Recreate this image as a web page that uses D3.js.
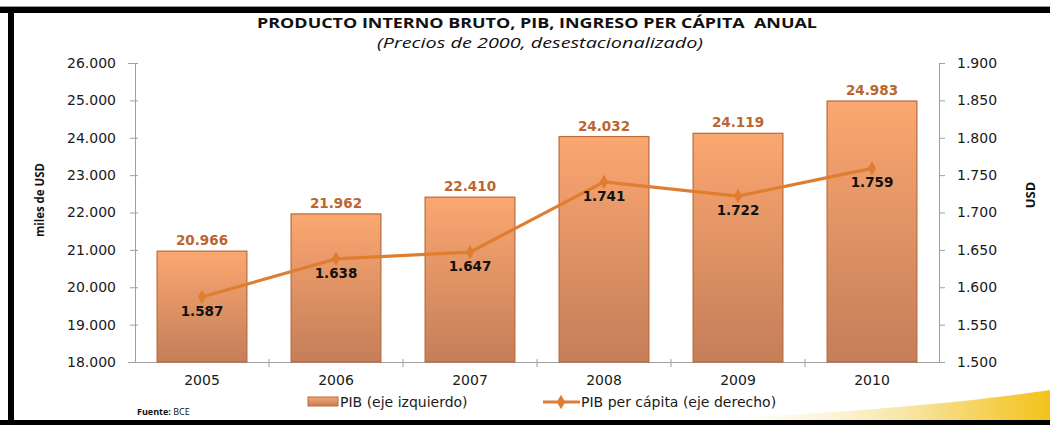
<!DOCTYPE html>
<html>
<head>
<meta charset="utf-8">
<script src="https://cdn.jsdelivr.net/npm/d3@7"></script>
<style>
  body { margin: 0; background: #fff; }
  svg { display: block; }
</style>
</head>
<body>
<div id="chart"></div>
<script>
var years = ['2005', '2006', '2007', '2008', '2009', '2010'];
var pib = [20966, 21962, 22410, 24032, 24119, 24983];
var pibPerCapita = [1587, 1638, 1647, 1741, 1722, 1759];
var leftTicks = [18000, 19000, 20000, 21000, 22000, 23000, 24000, 25000, 26000];
var rightTicks = [1500, 1550, 1600, 1650, 1700, 1750, 1800, 1850, 1900];

var width = 1050, height = 425;
var plot = {left: 135, right: 939, top: 63, bottom: 362};
var numFmt = function (v) { return d3.format(',')(v).replace(/,/g, '.'); };

var svg = d3.select('#chart').append('svg').attr('width', width).attr('height', height);
var defs = svg.append('defs');

var barGrad = defs.append('linearGradient').attr('id', 'barGrad')
    .attr('x1', 0).attr('y1', 0).attr('x2', 0).attr('y2', 1);
barGrad.append('stop').attr('offset', '0%').attr('stop-color', '#fba770');
barGrad.append('stop').attr('offset', '100%').attr('stop-color', '#c47e59');

var swoosh = defs.append('linearGradient').attr('id', 'swoosh')
    .attr('x1', 0).attr('y1', 0).attr('x2', 1).attr('y2', 0);
swoosh.append('stop').attr('offset', '0%').attr('stop-color', '#fff').attr('stop-opacity', 0);
swoosh.append('stop').attr('offset', '60%').attr('stop-color', '#f8e6a6');
swoosh.append('stop').attr('offset', '100%').attr('stop-color', '#f3c21a');

// decorative frame
svg.append('path')
    .attr('d', 'M680,420 C840,414 970,402 1050,390 L1050,420 Z')
    .attr('fill', 'url(#swoosh)');
svg.append('rect').attr('x', 0).attr('y', 6).attr('width', width).attr('height', 1).attr('fill', '#999');
svg.append('rect').attr('x', 0).attr('y', 7).attr('width', width).attr('height', 6).attr('fill', '#000');
svg.append('rect').attr('x', 8).attr('y', 7).attr('width', 6).attr('height', height).attr('fill', '#000');
svg.append('rect').attr('x', 0).attr('y', 420).attr('width', width).attr('height', 5).attr('fill', '#000');

var x = d3.scaleBand().domain(years).range([plot.left, plot.right]).paddingInner(0.33).paddingOuter(0.165);
var yL = d3.scaleLinear().domain([18000, 26000]).range([plot.bottom, plot.top]);
var yR = d3.scaleLinear().domain([1500, 1900]).range([plot.bottom, plot.top]);

// titles
svg.append('text').attr('x', 537).attr('y', 28).attr('text-anchor', 'middle')
    .attr('font-family', 'Open Sans').attr('font-weight', 'bold').attr('font-size', 15)
    .attr('textLength', 560).attr('lengthAdjust', 'spacingAndGlyphs')
    .attr('fill', '#111').style('white-space', 'pre')
    .text('PRODUCTO INTERNO BRUTO, PIB, INGRESO PER CÁPITA  ANUAL');
svg.append('text').attr('x', 540).attr('y', 48).attr('text-anchor', 'middle')
    .attr('font-family', 'Open Sans').attr('font-style', 'italic').attr('font-size', 15)
    .attr('textLength', 326).attr('lengthAdjust', 'spacingAndGlyphs')
    .attr('fill', '#111')
    .text('(Precios de 2000, desestacionalizado)');

// axes
var tickFont = function (g) {
    g.selectAll('text').attr('font-family', 'DejaVu Sans').attr('font-size', 14).attr('fill', '#1a1a1a');
    g.select('.domain').attr('stroke', '#a0a0a0');
    g.selectAll('.tick line').attr('stroke', '#a0a0a0');
};

svg.append('g').attr('transform', 'translate(' + plot.left + ',0)')
    .call(d3.axisLeft(yL).tickValues(leftTicks).tickFormat(numFmt).tickSizeOuter(0).tickSize(7).tickPadding(12))
    .call(tickFont)
    .call(function (g) { g.selectAll('.tick line').attr('x2', 3).attr('x1', -5); });

svg.append('g').attr('transform', 'translate(' + plot.right + ',0)')
    .call(d3.axisRight(yR).tickValues(rightTicks).tickFormat(numFmt).tickSizeOuter(0).tickSize(6).tickPadding(12))
    .call(tickFont)
    .call(function (g) { g.selectAll('text').attr('text-anchor', 'start'); });

var xAxis = svg.append('g').attr('transform', 'translate(0,' + plot.bottom + ')')
    .call(d3.axisBottom(x).tickSize(0).tickSizeOuter(0).tickPadding(13))
    .call(tickFont);
xAxis.selectAll('.tick text').attr('dy', '0.71em');
// boundary ticks between categories
xAxis.selectAll('.sep')
    .data(years.slice(1))
    .enter().append('line')
    .attr('x1', function (d) { return x(d) - x.step() * x.paddingInner() / 2; })
    .attr('x2', function (d) { return x(d) - x.step() * x.paddingInner() / 2; })
    .attr('y1', -3).attr('y2', 5).attr('stroke', '#a0a0a0');

// axis titles
svg.append('text').attr('transform', 'translate(44,200) rotate(-90)').attr('text-anchor', 'middle')
    .attr('font-family', 'Open Sans').attr('font-weight', 'bold').attr('font-size', 13)
    .attr('textLength', 74).attr('lengthAdjust', 'spacingAndGlyphs')
    .attr('fill', '#111').text('miles de USD');
svg.append('text').attr('transform', 'translate(1035,195) rotate(-90)').attr('text-anchor', 'middle')
    .attr('font-family', 'Open Sans').attr('font-weight', 'bold').attr('font-size', 13)
    .attr('fill', '#111').text('USD');

// bars
svg.selectAll('.bar')
    .data(pib)
    .enter().append('rect')
    .attr('class', 'bar')
    .attr('x', function (d, i) { return x(years[i]); })
    .attr('width', x.bandwidth())
    .attr('y', function (d) { return yL(d); })
    .attr('height', function (d) { return plot.bottom - yL(d); })
    .attr('fill', 'url(#barGrad)')
    .attr('stroke', '#b86a3c').attr('stroke-width', 1.2);

svg.selectAll('.barLabel')
    .data(pib)
    .enter().append('text')
    .attr('x', function (d, i) { return x(years[i]) + x.bandwidth() / 2; })
    .attr('y', function (d) { return yL(d) - 6; })
    .attr('text-anchor', 'middle')
    .attr('font-family', 'DejaVu Sans').attr('font-weight', 'bold').attr('font-size', 13.5)
    .attr('fill', '#bb6630')
    .text(numFmt);

// per capita line
var line = d3.line()
    .x(function (d, i) { return x(years[i]) + x.bandwidth() / 2; })
    .y(function (d) { return yR(d); });

svg.append('path').datum(pibPerCapita)
    .attr('d', line)
    .attr('fill', 'none').attr('stroke', '#df7d30').attr('stroke-width', 3.2);

var diamond = d3.symbol().type(d3.symbolDiamond).size(60);
svg.selectAll('.pt')
    .data(pibPerCapita)
    .enter().append('path')
    .attr('d', diamond)
    .attr('transform', function (d, i) {
        return 'translate(' + (x(years[i]) + x.bandwidth() / 2) + ',' + yR(d) + ')';
    })
    .attr('fill', '#df7d30');

svg.selectAll('.ptLabel')
    .data(pibPerCapita)
    .enter().append('text')
    .attr('x', function (d, i) { return x(years[i]) + x.bandwidth() / 2; })
    .attr('y', function (d) { return yR(d) + 19; })
    .attr('text-anchor', 'middle')
    .attr('font-family', 'DejaVu Sans').attr('font-weight', 'bold').attr('font-size', 13.5)
    .attr('fill', '#111')
    .text(numFmt);

// legend
var legend = svg.append('g').attr('font-family', 'DejaVu Sans').attr('font-size', 14).attr('fill', '#1a1a1a');
legend.append('rect').attr('x', 308).attr('y', 397).attr('width', 30).attr('height', 9)
    .attr('fill', 'url(#barGrad)').attr('stroke', '#b86a3c');
legend.append('text').attr('x', 340).attr('y', 407).text('PIB (eje izquierdo)');
legend.append('line').attr('x1', 543).attr('x2', 580).attr('y1', 402).attr('y2', 402)
    .attr('stroke', '#df7d30').attr('stroke-width', 3.2);
legend.append('path').attr('d', diamond).attr('transform', 'translate(561,402)').attr('fill', '#df7d30');
legend.append('text').attr('x', 581).attr('y', 407).text('PIB per cápita (eje derecho)');

// source
var src = svg.append('text').attr('x', 137).attr('y', 415)
    .attr('font-family', 'Open Sans').attr('font-size', 9).attr('fill', '#111');
src.append('tspan').attr('font-weight', 'bold').text('Fuente:');
src.append('tspan').text(' BCE');
</script>
</body>
</html>
